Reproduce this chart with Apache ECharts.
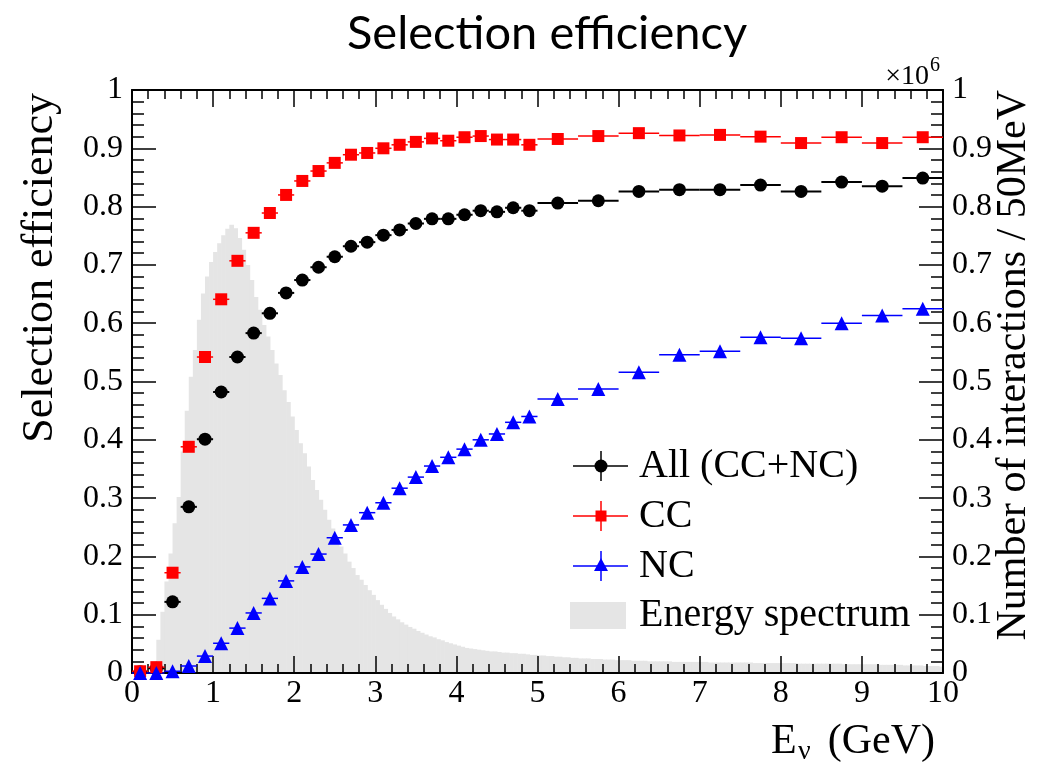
<!DOCTYPE html>
<html>
<head>
<meta charset="utf-8">
<title>Selection efficiency</title>
<script src="https://cdn.jsdelivr.net/npm/echarts@6/dist/echarts.min.js"></script>
<style>
  html, body { margin: 0; padding: 0; background: #fff; }
  #eff { width: 1037px; height: 764px; }
</style>
</head>
<body>
<div id="eff"></div>
<script>
// bin centres in GeV: 0.2 GeV bins up to 5 GeV, then 0.5 GeV bins
var energy = [0.1, 0.3, 0.5, 0.7, 0.9, 1.1, 1.3, 1.5, 1.7, 1.9,
              2.1, 2.3, 2.5, 2.7, 2.9, 3.1, 3.3, 3.5, 3.7, 3.9,
              4.1, 4.3, 4.5, 4.7, 4.9,
              5.25, 5.75, 6.25, 6.75, 7.25, 7.75, 8.25, 8.75, 9.25, 9.75];
var halfWidth = [0.1, 0.1, 0.1, 0.1, 0.1, 0.1, 0.1, 0.1, 0.1, 0.1,
                 0.1, 0.1, 0.1, 0.1, 0.1, 0.1, 0.1, 0.1, 0.1, 0.1,
                 0.1, 0.1, 0.1, 0.1, 0.1,
                 0.25, 0.25, 0.25, 0.25, 0.25, 0.25, 0.25, 0.25, 0.25, 0.25];

var effAll = [0.002, 0.008, 0.122, 0.285, 0.401, 0.482, 0.542, 0.583, 0.617, 0.652,
              0.674, 0.696, 0.714, 0.732, 0.739, 0.751, 0.760, 0.771, 0.779, 0.779,
              0.786, 0.793, 0.791, 0.798, 0.793,
              0.806, 0.810, 0.826, 0.829, 0.829, 0.837, 0.826, 0.842, 0.835, 0.849];
var effCC = [0.003, 0.010, 0.172, 0.388, 0.542, 0.641, 0.707, 0.755, 0.789, 0.820,
             0.844, 0.861, 0.875, 0.889, 0.892, 0.900, 0.906, 0.911, 0.917, 0.913,
             0.919, 0.921, 0.915, 0.915, 0.906,
             0.916, 0.921, 0.926, 0.922, 0.923, 0.920, 0.909, 0.919, 0.909, 0.919];
var effNC = [0.000, 0.000, 0.003, 0.012, 0.029, 0.051, 0.077, 0.103, 0.128, 0.158,
             0.182, 0.204, 0.232, 0.254, 0.275, 0.292, 0.317, 0.336, 0.355, 0.370,
             0.384, 0.400, 0.410, 0.430, 0.440,
             0.470, 0.487, 0.516, 0.546, 0.552, 0.576, 0.574, 0.600, 0.613, 0.625];

// energy spectrum, 50 MeV bins from 0 to 10 GeV, in units of 10^6 interactions
var specBinWidth = 0.05;
var spectrum = [
  0.000, 0.000, 0.000, 0.000, 0.002, 0.020, 0.057, 0.105, 0.157, 0.205,
  0.257, 0.302, 0.380, 0.450, 0.508, 0.554, 0.606, 0.651, 0.680, 0.705,
  0.722, 0.737, 0.751, 0.762, 0.769, 0.763, 0.746, 0.726, 0.700, 0.674,
  0.645, 0.623, 0.597, 0.577, 0.554, 0.531, 0.511, 0.485, 0.465, 0.440,
  0.417, 0.394, 0.377, 0.354, 0.331, 0.314, 0.297, 0.280, 0.263, 0.248,
  0.231, 0.217, 0.205, 0.191, 0.180, 0.168, 0.160, 0.151, 0.142, 0.134,
  0.125, 0.117, 0.110, 0.103, 0.097, 0.092, 0.087, 0.083, 0.079, 0.076,
  0.072, 0.069, 0.066, 0.063, 0.061, 0.058, 0.056, 0.053, 0.051, 0.049,
  0.047, 0.045, 0.043, 0.042, 0.041, 0.040, 0.039, 0.038, 0.037, 0.037,
  0.036, 0.035, 0.035, 0.034, 0.034, 0.033, 0.033, 0.032, 0.031, 0.031,
  0.030, 0.030, 0.029, 0.029, 0.028, 0.028, 0.027, 0.027, 0.026, 0.026,
  0.025, 0.025, 0.025, 0.024, 0.024, 0.024, 0.023, 0.023, 0.023, 0.022,
  0.022, 0.022, 0.022, 0.021, 0.021, 0.021, 0.021, 0.020, 0.020, 0.020,
  0.020, 0.020, 0.020, 0.019, 0.019, 0.019, 0.019, 0.019, 0.019, 0.019,
  0.019, 0.019, 0.018, 0.018, 0.018, 0.018, 0.018, 0.018, 0.018, 0.018,
  0.018, 0.018, 0.018, 0.017, 0.017, 0.017, 0.017, 0.017, 0.017, 0.017,
  0.017, 0.017, 0.017, 0.017, 0.016, 0.016, 0.016, 0.016, 0.016, 0.016,
  0.016, 0.016, 0.016, 0.016, 0.016, 0.015, 0.015, 0.015, 0.015, 0.015,
  0.015, 0.015, 0.015, 0.015, 0.014, 0.014, 0.014, 0.014, 0.014, 0.014,
  0.013, 0.013, 0.013, 0.013, 0.013, 0.012, 0.012, 0.012, 0.012, 0.011
];

var legendNames = ['All (CC+NC)', 'CC', 'NC', 'Energy spectrum'];

var serif = 'Liberation Serif';

function points(values) {
  return energy.map(function (e, i) { return [e, values[i]]; });
}

// horizontal bars showing the bin width
function binBars(values, color, width) {
  return {
    type: 'custom',
    silent: true,
    z: 4,
    data: energy.map(function (e, i) { return [e - halfWidth[i], e + halfWidth[i], values[i]]; }),
    encode: { x: [0, 1], y: 2 },
    renderItem: function (params, api) {
      var a = api.coord([api.value(0), api.value(2)]);
      var b = api.coord([api.value(1), api.value(2)]);
      return {
        type: 'line',
        shape: { x1: a[0], y1: a[1], x2: b[0], y2: b[1] },
        style: { stroke: color, lineWidth: width }
      };
    }
  };
}

function xAxisOpt(pos, showLabel) {
  return {
    type: 'value', position: pos, min: 0, max: 10, interval: 1, z: 3,
    axisLine: { onZero: false, lineStyle: { color: '#000', width: 2 } },
    axisTick: { inside: true, length: 17, lineStyle: { color: '#000', width: 1.5 } },
    minorTick: { show: true, splitNumber: 5, length: 9, lineStyle: { color: '#000', width: 1.5 } },
    splitLine: { show: false },
    axisLabel: { show: showLabel, color: '#000', fontSize: 32, fontFamily: serif, margin: 5 }
  };
}

function yAxisOpt(pos) {
  return {
    type: 'value', position: pos, min: 0, max: 1, interval: 0.1, z: 3,
    axisLine: { onZero: false, lineStyle: { color: '#000', width: 2 } },
    axisTick: { inside: true, length: 24, lineStyle: { color: '#000', width: 1.5 } },
    minorTick: { show: true, splitNumber: 5, length: 12, lineStyle: { color: '#000', width: 1.5 } },
    splitLine: { show: false },
    axisLabel: { color: '#000', fontSize: 32, fontFamily: serif, margin: 9 }
  };
}

function txt(x, y, text, size, align, vAlign, extra) {
  var el = {
    type: 'text', x: x, y: y, z: 10, silent: true,
    style: {
      text: text, fill: '#000', fontSize: size, fontFamily: serif,
      align: align, textAlign: align, verticalAlign: vAlign, textVerticalAlign: vAlign
    }
  };
  for (var k in (extra || {})) el[k] = extra[k];
  return el;
}

function legendRow(row, color, marker) {
  var els = [
    { type: 'line', shape: { x1: 573, y1: row, x2: 628, y2: row }, style: { stroke: color, lineWidth: 1.5 } },
    { type: 'line', shape: { x1: 601, y1: row - 15, x2: 601, y2: row + 15 }, style: { stroke: color, lineWidth: 1.5 } }
  ];
  if (marker === 'circle') els.push({ type: 'circle', shape: { cx: 601, cy: row, r: 6.5 }, style: { fill: color } });
  if (marker === 'rect') els.push({ type: 'rect', shape: { x: 595.5, y: row - 5.5, width: 11, height: 11 }, style: { fill: color } });
  if (marker === 'triangle') els.push({ type: 'polygon', shape: { points: [[601, row - 8], [594, row + 5], [608, row + 5]] }, style: { fill: color } });
  return els;
}

var chart = echarts.init(document.getElementById('eff'));

var graphics = [
  txt(40, 93, 'Selection efficiency', 44, 'right', 'middle', { rotation: Math.PI / 2 }),
  txt(1014, 90, 'Number of interactions / 50MeV', 42, 'right', 'middle', { rotation: Math.PI / 2 }),
  txt(771, 742, 'E', 42, 'left', 'middle'),
  txt(798, 752, 'ν', 28, 'left', 'middle'),
  txt(935, 742, '(GeV)', 42, 'right', 'middle'),
  txt(929, 77, '×10', 28, 'right', 'middle'),
  txt(930, 66, '6', 20, 'left', 'middle'),
  { type: 'rect', shape: { x: 570, y: 602, width: 56, height: 27 }, style: { fill: '#e5e5e5' } },
  txt(639, 466, legendNames[0], 40, 'left', 'middle'),
  txt(639, 516, legendNames[1], 40, 'left', 'middle'),
  txt(639, 566, legendNames[2], 40, 'left', 'middle'),
  txt(639, 615, legendNames[3], 40, 'left', 'middle')
].concat(legendRow(466, '#000', 'circle'))
 .concat(legendRow(516, '#ff0000', 'rect'))
 .concat(legendRow(566, '#0000ff', 'triangle'));
graphics.forEach(function (g) { if (g.z === undefined) g.z = 10; });

chart.setOption({
  animation: false,
  backgroundColor: '#fff',
  title: {
    text: 'Selection efficiency',
    left: 342, top: 5,
    textStyle: { fontFamily: 'Lato', fontWeight: 'normal', fontSize: 47, color: '#000' }
  },
  grid: { left: 132, right: 94, top: 90, bottom: 91, containLabel: false, outerBoundsMode: 'none' },
  xAxis: [xAxisOpt('bottom', true), xAxisOpt('top', false)],
  yAxis: [yAxisOpt('left'), yAxisOpt('right')],
  graphic: graphics,
  series: [
    {
      name: legendNames[3],
      type: 'custom',
      yAxisIndex: 1,
      silent: true,
      z: 1,
      data: spectrum.map(function (v, i) { return [i * specBinWidth, (i + 1) * specBinWidth, v]; }),
      encode: { x: [0, 1], y: 2 },
      renderItem: function (params, api) {
        var top = api.coord([api.value(0), api.value(2)]);
        var base = api.coord([api.value(1), 0]);
        return {
          type: 'rect',
          shape: { x: top[0], y: top[1], width: base[0] - top[0] + 0.6, height: base[1] - top[1] },
          style: { fill: '#e5e5e5' }
        };
      }
    },
    binBars(effAll, '#000', 2),
    binBars(effCC, '#ff0000', 1.5),
    binBars(effNC, '#0000ff', 1.5),
    { name: legendNames[0], type: 'scatter', z: 5, data: points(effAll), symbol: 'circle', symbolSize: 13, itemStyle: { color: '#000', opacity: 1 } },
    { name: legendNames[1], type: 'scatter', z: 5, data: points(effCC), symbol: 'rect', symbolSize: 12, itemStyle: { color: '#ff0000', opacity: 1 } },
    { name: legendNames[2], type: 'scatter', z: 5, data: points(effNC), symbol: 'triangle', symbolSize: 14, itemStyle: { color: '#0000ff', opacity: 1 } }
  ]
});
</script>
</body>
</html>
